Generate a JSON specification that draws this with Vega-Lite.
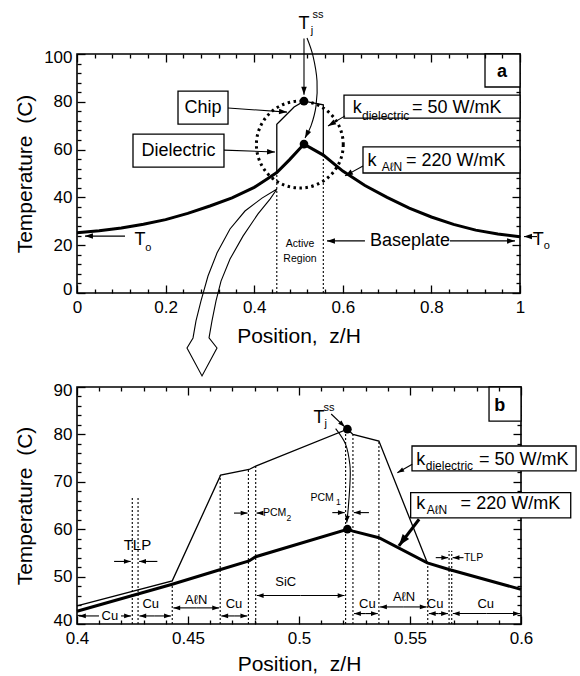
{
"$schema": "https://vega.github.io/schema/vega-lite/v6.json",
"padding": {"left": 13, "top": 8, "right": 0, "bottom": 0},
"bounds": "flush",
"spacing": 94,
"config": {
  "font": "Liberation Sans",
  "view": {"stroke": "black", "strokeWidth": 1.6, "fill": null},
  "axis": {"domain": false, "grid": false, "ticks": true, "zindex": 1, "tickColor": "black", "tickOpacity": 1, "tickWidth": 1.3, "labelFont": "Liberation Sans", "labelFontSize": 17, "labelColor": "black", "labelFlush": false, "labelOverlap": false, "titleFont": "Liberation Sans", "titleFontSize": 21, "titleFontWeight": "normal", "titleColor": "black"}
},
"datasets": {
  "a_aln": [{"i":1,"x":0,"t":25.2},{"i":2,"x":0.05,"t":26.0},{"i":3,"x":0.1,"t":27.2},{"i":4,"x":0.15,"t":28.8},{"i":5,"x":0.2,"t":30.7},{"i":6,"x":0.25,"t":33.3},{"i":7,"x":0.3,"t":36.4},{"i":8,"x":0.35,"t":39.8},{"i":9,"x":0.4,"t":44.2},{"i":10,"x":0.43,"t":47.8},{"i":11,"x":0.451,"t":50.4},{"i":12,"x":0.48,"t":55.8},{"i":13,"x":0.5124,"t":62.3},{"i":14,"x":0.556,"t":57.7},{"i":15,"x":0.6,"t":51.0},{"i":16,"x":0.65,"t":45.0},{"i":17,"x":0.7,"t":40.0},{"i":18,"x":0.75,"t":35.5},{"i":19,"x":0.8,"t":31.8},{"i":20,"x":0.85,"t":28.7},{"i":21,"x":0.9,"t":26.3},{"i":22,"x":0.95,"t":24.7},{"i":23,"x":1.0,"t":23.5}],
  "a_die": [{"i":1,"x":0.451,"t":50.4},{"i":2,"x":0.451,"t":70.6},{"i":3,"x":0.49,"t":77.8},{"i":4,"x":0.5124,"t":80.3},{"i":5,"x":0.556,"t":78.7},{"i":6,"x":0.556,"t":57.7}],
  "a_vdot": [{"x":0.451,"t":0,"t2":50.4},{"x":0.556,"t":0,"t2":57.7}],
  "a_dots": [{"x":0.5124,"t":80.3},{"x":0.5124,"t":62.3}],
  "a_circle": [{"x":0.503,"t":62.1}],
  "a_boxes": [{"x":0.228,"x2":0.3409,"t":84.5,"t2":70.7},{"x":0.1264,"x2":0.3318,"t":66.5,"t2":52.7},{"x":0.6027,"x2":1.0,"t":82.8,"t2":73.2},{"x":0.6456,"x2":1.0,"t":61.1,"t2":50.2},{"x":0.921,"x2":1.0,"t":100,"t2":86.2}],
  "a_hollow": [{"i":1,"x":0.4515,"t":43.5},{"i":2,"x":0.4176,"t":39.7},{"i":3,"x":0.3792,"t":34.3},{"i":4,"x":0.3454,"t":26.8},{"i":5,"x":0.316,"t":16.7},{"i":6,"x":0.2957,"t":7.1},{"i":7,"x":0.2799,"t":-3.3},{"i":8,"x":0.2686,"t":-11.7},{"i":9,"x":0.2619,"t":-18.8},{"i":10,"x":0.2483,"t":-23.0},{"i":11,"x":0.2822,"t":-34.7},{"i":12,"x":0.316,"t":-23.0},{"i":13,"x":0.298,"t":-18.8},{"i":14,"x":0.3047,"t":-11.7},{"i":15,"x":0.3138,"t":-3.3},{"i":16,"x":0.3251,"t":5.0},{"i":17,"x":0.3454,"t":14.2},{"i":18,"x":0.3747,"t":23.8},{"i":19,"x":0.4086,"t":33.1},{"i":20,"x":0.4357,"t":39.3},{"i":21,"x":0.4515,"t":43.5}],
  "a_curve": [{"i":1,"x":0.5192,"t":106.7},{"i":2,"x":0.5327,"t":99.2},{"i":3,"x":0.5418,"t":88.7},{"i":4,"x":0.5395,"t":78.2},{"i":5,"x":0.5282,"t":69.9},{"i":6,"x":0.5147,"t":64.9}],
  "a_arrows": [{"x":0.3409,"t":77.4,"x2":0.474,"t2":75.7,"ang":94},{"x":0.3318,"t":59.8,"x2":0.447,"t2":59.0,"ang":92},{"x":0.605,"t":74.1,"x2":0.5666,"t2":69.9,"ang":240},{"x":0.6456,"t":53.1,"x2":0.605,"t2":49.0,"ang":241},{"x":0.5124,"t":106.5,"x2":0.5124,"t2":83.0,"ang":180},{"x":0.1084,"t":23.8,"x2":0.018,"t2":23.8,"ang":270},{"x":1.0384,"t":23.6,"x2":1.009,"t2":23.6,"ang":270},{"x":0.65,"t":21.8,"x2":0.5643,"t2":21.8,"ang":270},{"x":0.842,"t":21.8,"x2":0.9887,"t2":21.8,"ang":90},{"x":0.5147,"t":64.9,"x2":0.5147,"t2":64.9,"ang":207}],
  "a_t18c": [{"x":0.2844,"t":77.4,"txt":"Chip"},{"x":0.2291,"t":59.6,"txt":"Dielectric"},{"x":0.7517,"t":21.8,"txt":"Baseplate"},{"x":0.1422,"t":22.3,"txt":"T"},{"x":1.0413,"t":22.3,"txt":"T"},{"x":0.5124,"t":112.6,"txt":"T"},{"x":0.6325,"t":77.5,"txt":"k"},{"x":0.6659,"t":55.2,"txt":"k"}],
  "a_t18l": [{"x":0.7562,"t":77.5,"txt":"= 50 W/mK"},{"x":0.7427,"t":55.2,"txt":"= 220 W/mK"}],
  "a_t12l": [{"x":0.6433,"t":74.1,"txt":"dielectric"},{"x":0.6878,"t":52.7,"txt":"AℓN"}],
  "a_t11c": [{"x":0.1609,"t":19.0,"txt":"o"},{"x":1.0603,"t":19.5,"txt":"o"},{"x":0.5305,"t":109.6,"txt":"j"},{"x":0.544,"t":116.3,"txt":"ss"}],
  "a_t10c": [{"x":0.5034,"t":20.5,"txt":"Active"},{"x":0.5034,"t":14.2,"txt":"Region"}],
  "a_bold": [{"x":0.9594,"t":92.3,"txt":"a"}],
  "b_aln": [{"i":1,"x":0.4,"t":42.7},{"i":2,"x":0.4429,"t":48.4},{"i":3,"x":0.4647,"t":51.5},{"i":4,"x":0.4775,"t":53.3},{"i":5,"x":0.4805,"t":54.2},{"i":6,"x":0.5218,"t":60.0},{"i":7,"x":0.5243,"t":59.6},{"i":8,"x":0.536,"t":58.2},{"i":9,"x":0.5578,"t":52.9},{"i":10,"x":0.5676,"t":51.5},{"i":11,"x":0.6,"t":47.3}],
  "b_die": [{"i":1,"x":0.4,"t":43.8},{"i":2,"x":0.4429,"t":49.1},{"i":3,"x":0.4647,"t":71.4},{"i":4,"x":0.4775,"t":72.6},{"i":5,"x":0.4805,"t":73.3},{"i":6,"x":0.5218,"t":81.1},{"i":7,"x":0.5243,"t":80.0},{"i":8,"x":0.536,"t":78.6},{"i":9,"x":0.5578,"t":52.9}],
  "b_vdot": [{"x":0.4249,"t":40,"t2":67},{"x":0.4275,"t":40,"t2":67},{"x":0.4429,"t":40,"t2":48.4},{"x":0.4645,"t":40,"t2":71.4},{"x":0.4772,"t":40,"t2":72.6},{"x":0.4805,"t":40,"t2":73.3},{"x":0.521,"t":40,"t2":81.0},{"x":0.5243,"t":40,"t2":80.0},{"x":0.536,"t":40,"t2":78.6},{"x":0.558,"t":40,"t2":52.9},{"x":0.5676,"t":40,"t2":55.4},{"x":0.5688,"t":40,"t2":55.4}],
  "b_dots": [{"x":0.5218,"t":81.1},{"x":0.5218,"t":60.0}],
  "b_boxes": [{"x":0.5856,"x2":0.6,"t":90,"t2":82.8},{"x":0.5509,"x2":0.6248,"t":77.55,"t2":72.3},{"x":0.5503,"x2":0.6224,"t":67.7,"t2":62.4}],
  "b_curve": [{"i":1,"x":0.5165,"t":81.2},{"i":2,"x":0.521,"t":77.9},{"i":3,"x":0.5229,"t":73.7},{"i":4,"x":0.523,"t":70.2},{"i":5,"x":0.5222,"t":64.5},{"i":6,"x":0.5215,"t":61.4}],
  "b_arrows": [{"x":0.4099,"t":41.7,"x2":0.4009,"t2":41.7,"ang":270},{"x":0.4198,"t":41.7,"x2":0.4243,"t2":41.7,"ang":90},{"x":0.435,"t":41.7,"x2":0.4281,"t2":41.7,"ang":270},{"x":0.435,"t":41.7,"x2":0.4423,"t2":41.7,"ang":90},{"x":0.4537,"t":43.4,"x2":0.4434,"t2":43.4,"ang":270},{"x":0.4537,"t":43.4,"x2":0.464,"t2":43.4,"ang":90},{"x":0.4708,"t":41.7,"x2":0.465,"t2":41.7,"ang":270},{"x":0.4708,"t":41.7,"x2":0.4767,"t2":41.7,"ang":90},{"x":0.5007,"t":46.0,"x2":0.481,"t2":46.0,"ang":270},{"x":0.5007,"t":46.0,"x2":0.5205,"t2":46.0,"ang":90},{"x":0.5301,"t":42.2,"x2":0.5248,"t2":42.2,"ang":270},{"x":0.5301,"t":42.2,"x2":0.5355,"t2":42.2,"ang":90},{"x":0.547,"t":43.6,"x2":0.5365,"t2":43.6,"ang":270},{"x":0.547,"t":43.6,"x2":0.5575,"t2":43.6,"ang":90},{"x":0.5628,"t":42.2,"x2":0.5585,"t2":42.2,"ang":270},{"x":0.5628,"t":42.2,"x2":0.5671,"t2":42.2,"ang":90},{"x":0.5844,"t":42.2,"x2":0.5693,"t2":42.2,"ang":270},{"x":0.5844,"t":42.2,"x2":0.5995,"t2":42.2,"ang":90},{"x":0.4167,"t":53.2,"x2":0.4242,"t2":53.2,"ang":90},{"x":0.4362,"t":53.2,"x2":0.428,"t2":53.2,"ang":270},{"x":0.4707,"t":63.4,"x2":0.4768,"t2":63.4,"ang":90},{"x":0.4836,"t":63.4,"x2":0.4809,"t2":63.4,"ang":270},{"x":0.515,"t":63.5,"x2":0.5206,"t2":63.5,"ang":90},{"x":0.5315,"t":63.5,"x2":0.5247,"t2":63.5,"ang":270},{"x":0.5616,"t":54.0,"x2":0.5672,"t2":54.0,"ang":90},{"x":0.5741,"t":54.0,"x2":0.5692,"t2":54.0,"ang":270},{"x":0.551,"t":73.7,"x2":0.5443,"t2":71.9,"ang":241},{"x":0.5145,"t":84.3,"x2":0.5206,"t2":81.6,"ang":134},{"x":0.5215,"t":61.4,"x2":0.5215,"t2":61.4,"ang":186}],
  "b_thick": [{"x":0.5541,"t":62.1,"x2":0.545,"t2":56.5,"ang":217}],
  "b_t18c": [{"x":0.509,"t":83.5,"txt":"T"},{"x":0.5548,"t":74.7,"txt":"k"},{"x":0.5548,"t":65.3,"txt":"k"}],
  "b_t18l": [{"x":0.5811,"t":74.7,"txt":"= 50 W/mK"},{"x":0.5728,"t":65.3,"txt":"= 220 W/mK"}],
  "b_t12l": [{"x":0.5571,"t":73.3,"txt":"dielectric"},{"x":0.5575,"t":64.0,"txt":"AℓN"}],
  "b_t11c": [{"x":0.5135,"t":85.6,"txt":"ss"},{"x":0.512,"t":82.1,"txt":"j"}],
  "b_t13c": [{"x":0.4148,"t":41.7,"txt":"Cu"},{"x":0.4332,"t":44.2,"txt":"Cu"},{"x":0.4537,"t":45.1,"txt":"AℓN"},{"x":0.4707,"t":44.2,"txt":"Cu"},{"x":0.494,"t":48.8,"txt":"SiC"},{"x":0.5308,"t":44.2,"txt":"Cu"},{"x":0.5473,"t":45.6,"txt":"AℓN"},{"x":0.5613,"t":44.2,"txt":"Cu"},{"x":0.5841,"t":44.2,"txt":"Cu"}],
  "b_t15c": [{"x":0.4272,"t":56.6,"txt":"TLP"}],
  "b_t10c": [{"x":0.5104,"t":66.6,"txt":"PCM"}],
  "b_t10l": [{"x":0.4838,"t":63.4,"txt":"PCM"},{"x":0.5743,"t":54.0,"txt":"TLP"}],
  "b_t8l": [{"x":0.5167,"t":65.8,"txt":"1"},{"x":0.4944,"t":62.3,"txt":"2"}],
  "b_bold": [{"x":0.5904,"t":86.0,"txt":"b"}]
},
"vconcat": [
{
  "width": 443, "height": 239,
  "resolve": {"axis": {"x": "independent", "y": "independent"}},
  "layer": [
    {"data": {"name": "a_vdot"}, "mark": {"type": "rule", "color": "black", "strokeWidth": 1.1, "strokeDash": [2, 2]},
     "encoding": {"x": {"field": "x", "type": "quantitative", "scale": {"domain": [0, 1], "nice": false, "zero": false}, "axis": {"orient": "top", "values": [0, 0.2, 0.4, 0.6, 0.8, 1], "tickSize": -8, "labels": false, "title": null, "zindex": 1}},
                  "y": {"field": "t", "type": "quantitative", "scale": {"domain": [0, 100], "nice": false, "zero": false}, "axis": {"orient": "right", "values": [0, 20, 40, 60, 80, 100], "tickSize": -8, "labels": false, "title": null, "zindex": 0}},
                  "y2": {"field": "t2"}}},
    {"data": {"name": "a_aln"}, "mark": {"type": "line", "color": "black", "strokeWidth": 3},
     "encoding": {"x": {"field": "x", "type": "quantitative", "scale": {"domain": [0, 1], "nice": false, "zero": false}, "axis": {"orient": "bottom", "values": [0, 0.2, 0.4, 0.6, 0.8, 1], "labelExpr": "'' + datum.value", "tickSize": -8, "labelPadding": 14, "zindex": 1, "title": "Position,\u00a0 z/H", "titleX": 221.5, "titleY": 43, "titleBaseline": "middle", "titleAlign": "center"}},
                  "y": {"field": "t", "type": "quantitative", "scale": {"domain": [0, 100], "nice": false, "zero": false}, "axis": {"orient": "left", "values": [0, 20, 40, 60, 80, 100], "labelExpr": "'' + datum.value", "labelFlush": true, "labelFlushOffset": 5, "tickSize": -8, "labelPadding": 13, "zindex": 1, "title": "Temperature\u00a0 (C)", "titleX": -52, "titleY": 119.5, "titleAngle": 270, "titleBaseline": "middle", "titleAlign": "center"}},
                  "order": {"field": "i", "type": "quantitative"}}},
    {"data": {"name": "a_die"}, "mark": {"type": "line", "color": "black", "strokeWidth": 1.3},
     "encoding": {"x": {"field": "x", "type": "quantitative", "scale": {"domain": [0, 1], "nice": false, "zero": false}, "axis": {"orient": "bottom", "values": [0.04, 0.08, 0.12, 0.16, 0.24, 0.28, 0.32, 0.36, 0.44, 0.48, 0.52, 0.56, 0.64, 0.68, 0.72, 0.76, 0.84, 0.88, 0.92, 0.96], "tickSize": -4, "labels": false, "title": null, "zindex": 1}},
                  "y": {"field": "t", "type": "quantitative", "scale": {"domain": [0, 100], "nice": false, "zero": false}, "axis": {"orient": "left", "values": [4, 8, 12, 16, 24, 28, 32, 36, 44, 48, 52, 56, 64, 68, 72, 76, 84, 88, 92, 96], "tickSize": -4, "labels": false, "title": null, "zindex": 1}},
                  "order": {"field": "i", "type": "quantitative"}}},
    {"data": {"name": "a_circle"}, "mark": {"type": "point", "shape": "circle", "filled": false, "size": 7543, "color": "black", "strokeWidth": 3, "strokeDash": [2.5, 3.5], "opacity": 1},
     "encoding": {"x": {"field": "x", "type": "quantitative", "scale": {"domain": [0, 1], "nice": false, "zero": false}, "axis": {"orient": "top", "values": [0.04, 0.08, 0.12, 0.16, 0.24, 0.28, 0.32, 0.36, 0.44, 0.48, 0.52, 0.56, 0.64, 0.68, 0.72, 0.76, 0.84, 0.88, 0.92, 0.96], "tickSize": -4, "labels": false, "title": null, "zindex": 1}},
                  "y": {"field": "t", "type": "quantitative", "scale": {"domain": [0, 100], "nice": false, "zero": false}, "axis": {"orient": "right", "values": [4, 8, 12, 16, 24, 28, 32, 36, 44, 48, 52, 56, 64, 68, 72, 76, 84, 88, 92, 96], "tickSize": -4, "labels": false, "title": null, "zindex": 0}}}},
    {"data": {"name": "a_hollow"}, "mark": {"type": "line", "color": "black", "strokeWidth": 1.1},
     "encoding": {"x": {"field": "x", "type": "quantitative", "axis": null}, "y": {"field": "t", "type": "quantitative", "axis": null}, "order": {"field": "i", "type": "quantitative"}}},
    {"data": {"name": "a_boxes"}, "mark": {"type": "rect", "fill": "white", "stroke": "black", "strokeWidth": 1.3},
     "encoding": {"x": {"field": "x", "type": "quantitative", "axis": null}, "x2": {"field": "x2"}, "y": {"field": "t", "type": "quantitative", "axis": null}, "y2": {"field": "t2"}}},
    {"data": {"name": "a_arrows"}, "mark": {"type": "rule", "color": "black", "strokeWidth": 1.1},
     "encoding": {"x": {"field": "x", "type": "quantitative", "axis": null}, "x2": {"field": "x2"}, "y": {"field": "t", "type": "quantitative", "axis": null}, "y2": {"field": "t2"}}},
    {"data": {"name": "a_arrows"}, "mark": {"type": "point", "shape": "M0,0L-0.45,1.3L0.45,1.3Z", "filled": true, "color": "black", "size": 150, "opacity": 1},
     "encoding": {"x": {"field": "x2", "type": "quantitative", "axis": null}, "y": {"field": "t2", "type": "quantitative", "axis": null}, "angle": {"field": "ang", "type": "quantitative", "scale": null}}},
    {"data": {"name": "a_curve"}, "mark": {"type": "line", "color": "black", "strokeWidth": 1.1, "interpolate": "cardinal"},
     "encoding": {"x": {"field": "x", "type": "quantitative", "axis": null}, "y": {"field": "t", "type": "quantitative", "axis": null}, "order": {"field": "i", "type": "quantitative"}}},
    {"data": {"name": "a_dots"}, "mark": {"type": "point", "shape": "circle", "filled": true, "color": "black", "size": 75, "opacity": 1},
     "encoding": {"x": {"field": "x", "type": "quantitative", "axis": null}, "y": {"field": "t", "type": "quantitative", "axis": null}}},
    {"data": {"name": "a_t18c"}, "mark": {"type": "text", "fontSize": 18, "align": "center", "baseline": "middle", "color": "black"},
     "encoding": {"x": {"field": "x", "type": "quantitative", "axis": null}, "y": {"field": "t", "type": "quantitative", "axis": null}, "text": {"field": "txt"}}},
    {"data": {"name": "a_t18l"}, "mark": {"type": "text", "fontSize": 18, "align": "left", "baseline": "middle", "color": "black"},
     "encoding": {"x": {"field": "x", "type": "quantitative", "axis": null}, "y": {"field": "t", "type": "quantitative", "axis": null}, "text": {"field": "txt"}}},
    {"data": {"name": "a_t12l"}, "mark": {"type": "text", "fontSize": 12, "align": "left", "baseline": "middle", "color": "black"},
     "encoding": {"x": {"field": "x", "type": "quantitative", "axis": null}, "y": {"field": "t", "type": "quantitative", "axis": null}, "text": {"field": "txt"}}},
    {"data": {"name": "a_t11c"}, "mark": {"type": "text", "fontSize": 11, "align": "center", "baseline": "middle", "color": "black"},
     "encoding": {"x": {"field": "x", "type": "quantitative", "axis": null}, "y": {"field": "t", "type": "quantitative", "axis": null}, "text": {"field": "txt"}}},
    {"data": {"name": "a_t10c"}, "mark": {"type": "text", "fontSize": 10.5, "align": "center", "baseline": "middle", "color": "black"},
     "encoding": {"x": {"field": "x", "type": "quantitative", "axis": null}, "y": {"field": "t", "type": "quantitative", "axis": null}, "text": {"field": "txt"}}},
    {"data": {"name": "a_bold"}, "mark": {"type": "text", "fontSize": 18, "fontWeight": "bold", "align": "center", "baseline": "middle", "color": "black"},
     "encoding": {"x": {"field": "x", "type": "quantitative", "axis": null}, "y": {"field": "t", "type": "quantitative", "axis": null}, "text": {"field": "txt"}}}
  ]
},
{
  "width": 444, "height": 237,
  "resolve": {"axis": {"x": "independent", "y": "independent"}},
  "layer": [
    {"data": {"name": "b_vdot"}, "mark": {"type": "rule", "color": "black", "strokeWidth": 1.1, "strokeDash": [2, 2]},
     "encoding": {"x": {"field": "x", "type": "quantitative", "scale": {"domain": [0.4, 0.6], "nice": false, "zero": false}, "axis": {"orient": "top", "values": [0.4, 0.45, 0.5, 0.55, 0.6], "tickSize": -8, "labels": false, "title": null, "zindex": 1}},
                  "y": {"field": "t", "type": "quantitative", "scale": {"domain": [40, 90], "nice": false, "zero": false}, "axis": {"orient": "right", "values": [40, 50, 60, 70, 80, 90], "tickSize": -8, "labels": false, "title": null, "zindex": 0}},
                  "y2": {"field": "t2"}}},
    {"data": {"name": "b_aln"}, "mark": {"type": "line", "color": "black", "strokeWidth": 3},
     "encoding": {"x": {"field": "x", "type": "quantitative", "scale": {"domain": [0.4, 0.6], "nice": false, "zero": false}, "axis": {"orient": "bottom", "values": [0.4, 0.45, 0.5, 0.55, 0.6], "labelExpr": "'' + datum.value", "tickSize": -8, "labelPadding": 14, "zindex": 1, "title": "Position,\u00a0 z/H", "titleX": 222, "titleY": 40, "titleBaseline": "middle", "titleAlign": "center"}},
                  "y": {"field": "t", "type": "quantitative", "scale": {"domain": [40, 90], "nice": false, "zero": false}, "axis": {"orient": "left", "values": [40, 50, 60, 70, 80, 90], "labelExpr": "'' + datum.value", "labelFlush": true, "labelFlushOffset": 5, "tickSize": -8, "labelPadding": 13, "zindex": 1, "title": "Temperature\u00a0 (C)", "titleX": -52, "titleY": 118.5, "titleAngle": 270, "titleBaseline": "middle", "titleAlign": "center"}},
                  "order": {"field": "i", "type": "quantitative"}}},
    {"data": {"name": "b_die"}, "mark": {"type": "line", "color": "black", "strokeWidth": 1.3},
     "encoding": {"x": {"field": "x", "type": "quantitative", "scale": {"domain": [0.4, 0.6], "nice": false, "zero": false}, "axis": {"orient": "bottom", "values": [0.41, 0.42, 0.43, 0.44, 0.46, 0.47, 0.48, 0.49, 0.51, 0.52, 0.53, 0.54, 0.56, 0.57, 0.58, 0.59], "tickSize": -4, "labels": false, "title": null, "zindex": 1}},
                  "y": {"field": "t", "type": "quantitative", "scale": {"domain": [40, 90], "nice": false, "zero": false}, "axis": {"orient": "left", "values": [42, 44, 46, 48, 52, 54, 56, 58, 62, 64, 66, 68, 72, 74, 76, 78, 82, 84, 86, 88], "tickSize": -4, "labels": false, "title": null, "zindex": 1}},
                  "order": {"field": "i", "type": "quantitative"}}},
    {"data": {"name": "b_dots"}, "mark": {"type": "point", "shape": "circle", "filled": true, "color": "black", "size": 75, "opacity": 1},
     "encoding": {"x": {"field": "x", "type": "quantitative", "scale": {"domain": [0.4, 0.6], "nice": false, "zero": false}, "axis": {"orient": "top", "values": [0.41, 0.42, 0.43, 0.44, 0.46, 0.47, 0.48, 0.49, 0.51, 0.52, 0.53, 0.54, 0.56, 0.57, 0.58, 0.59], "tickSize": -4, "labels": false, "title": null, "zindex": 1}},
                  "y": {"field": "t", "type": "quantitative", "scale": {"domain": [40, 90], "nice": false, "zero": false}, "axis": {"orient": "right", "values": [42, 44, 46, 48, 52, 54, 56, 58, 62, 64, 66, 68, 72, 74, 76, 78, 82, 84, 86, 88], "tickSize": -4, "labels": false, "title": null, "zindex": 0}}}},
    {"data": {"name": "b_boxes"}, "mark": {"type": "rect", "fill": "white", "stroke": "black", "strokeWidth": 1.3},
     "encoding": {"x": {"field": "x", "type": "quantitative", "axis": null}, "x2": {"field": "x2"}, "y": {"field": "t", "type": "quantitative", "axis": null}, "y2": {"field": "t2"}}},
    {"data": {"name": "b_curve"}, "mark": {"type": "line", "color": "black", "strokeWidth": 1.1, "interpolate": "cardinal"},
     "encoding": {"x": {"field": "x", "type": "quantitative", "axis": null}, "y": {"field": "t", "type": "quantitative", "axis": null}, "order": {"field": "i", "type": "quantitative"}}},
    {"data": {"name": "b_arrows"}, "mark": {"type": "rule", "color": "black", "strokeWidth": 1.1},
     "encoding": {"x": {"field": "x", "type": "quantitative", "axis": null}, "x2": {"field": "x2"}, "y": {"field": "t", "type": "quantitative", "axis": null}, "y2": {"field": "t2"}}},
    {"data": {"name": "b_arrows"}, "mark": {"type": "point", "shape": "M0,0L-0.45,1.3L0.45,1.3Z", "filled": true, "color": "black", "size": 110, "opacity": 1},
     "encoding": {"x": {"field": "x2", "type": "quantitative", "axis": null}, "y": {"field": "t2", "type": "quantitative", "axis": null}, "angle": {"field": "ang", "type": "quantitative", "scale": null}}},
    {"data": {"name": "b_thick"}, "mark": {"type": "rule", "color": "black", "strokeWidth": 3},
     "encoding": {"x": {"field": "x", "type": "quantitative", "axis": null}, "x2": {"field": "x2"}, "y": {"field": "t", "type": "quantitative", "axis": null}, "y2": {"field": "t2"}}},
    {"data": {"name": "b_thick"}, "mark": {"type": "point", "shape": "M0,0L-0.45,1.3L0.45,1.3Z", "filled": true, "color": "black", "size": 320, "opacity": 1},
     "encoding": {"x": {"field": "x2", "type": "quantitative", "axis": null}, "y": {"field": "t2", "type": "quantitative", "axis": null}, "angle": {"field": "ang", "type": "quantitative", "scale": null}}},
    {"data": {"name": "b_t18c"}, "mark": {"type": "text", "fontSize": 18, "align": "center", "baseline": "middle", "color": "black"},
     "encoding": {"x": {"field": "x", "type": "quantitative", "axis": null}, "y": {"field": "t", "type": "quantitative", "axis": null}, "text": {"field": "txt"}}},
    {"data": {"name": "b_t18l"}, "mark": {"type": "text", "fontSize": 18, "align": "left", "baseline": "middle", "color": "black"},
     "encoding": {"x": {"field": "x", "type": "quantitative", "axis": null}, "y": {"field": "t", "type": "quantitative", "axis": null}, "text": {"field": "txt"}}},
    {"data": {"name": "b_t12l"}, "mark": {"type": "text", "fontSize": 12, "align": "left", "baseline": "middle", "color": "black"},
     "encoding": {"x": {"field": "x", "type": "quantitative", "axis": null}, "y": {"field": "t", "type": "quantitative", "axis": null}, "text": {"field": "txt"}}},
    {"data": {"name": "b_t11c"}, "mark": {"type": "text", "fontSize": 11, "align": "center", "baseline": "middle", "color": "black"},
     "encoding": {"x": {"field": "x", "type": "quantitative", "axis": null}, "y": {"field": "t", "type": "quantitative", "axis": null}, "text": {"field": "txt"}}},
    {"data": {"name": "b_t13c"}, "mark": {"type": "text", "fontSize": 13, "align": "center", "baseline": "middle", "color": "black"},
     "encoding": {"x": {"field": "x", "type": "quantitative", "axis": null}, "y": {"field": "t", "type": "quantitative", "axis": null}, "text": {"field": "txt"}}},
    {"data": {"name": "b_t15c"}, "mark": {"type": "text", "fontSize": 15, "align": "center", "baseline": "middle", "color": "black"},
     "encoding": {"x": {"field": "x", "type": "quantitative", "axis": null}, "y": {"field": "t", "type": "quantitative", "axis": null}, "text": {"field": "txt"}}},
    {"data": {"name": "b_t10c"}, "mark": {"type": "text", "fontSize": 10.5, "align": "center", "baseline": "middle", "color": "black"},
     "encoding": {"x": {"field": "x", "type": "quantitative", "axis": null}, "y": {"field": "t", "type": "quantitative", "axis": null}, "text": {"field": "txt"}}},
    {"data": {"name": "b_t10l"}, "mark": {"type": "text", "fontSize": 10.5, "align": "left", "baseline": "middle", "color": "black"},
     "encoding": {"x": {"field": "x", "type": "quantitative", "axis": null}, "y": {"field": "t", "type": "quantitative", "axis": null}, "text": {"field": "txt"}}},
    {"data": {"name": "b_t8l"}, "mark": {"type": "text", "fontSize": 8.5, "align": "left", "baseline": "middle", "color": "black"},
     "encoding": {"x": {"field": "x", "type": "quantitative", "axis": null}, "y": {"field": "t", "type": "quantitative", "axis": null}, "text": {"field": "txt"}}},
    {"data": {"name": "b_bold"}, "mark": {"type": "text", "fontSize": 18, "fontWeight": "bold", "align": "center", "baseline": "middle", "color": "black"},
     "encoding": {"x": {"field": "x", "type": "quantitative", "axis": null}, "y": {"field": "t", "type": "quantitative", "axis": null}, "text": {"field": "txt"}}}
  ]
}
]
}
